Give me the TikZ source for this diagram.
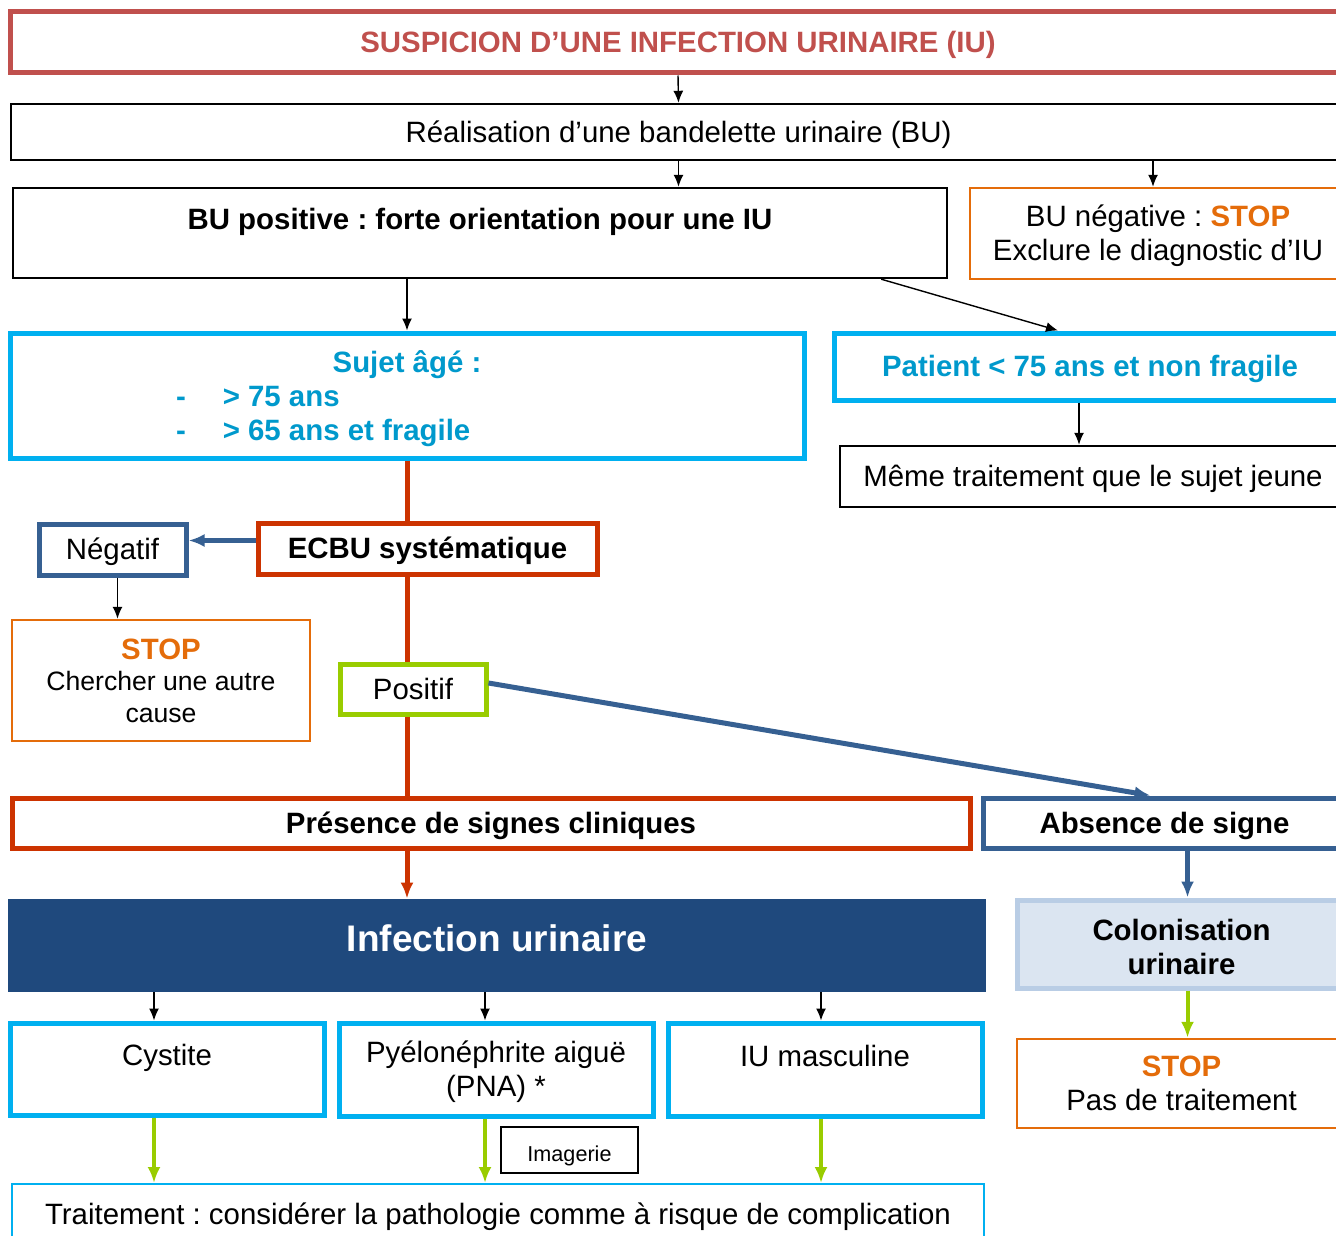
\documentclass[tikz,border=0pt]{standalone}
\usepackage{fontspec}
\setmainfont{Liberation Sans}
\usetikzlibrary{arrows.meta}
\definecolor{rouge}{HTML}{C0504D}
\definecolor{brique}{HTML}{CC3300}
\definecolor{cyanbord}{HTML}{00B0F0}
\definecolor{cyantexte}{HTML}{0099CC}
\definecolor{bleu}{HTML}{366092}
\definecolor{marine}{HTML}{1F497D}
\definecolor{vert}{HTML}{99CC00}
\definecolor{orangestop}{HTML}{E46C0A}
\definecolor{ciel}{HTML}{DBE5F1}
\definecolor{cielbord}{HTML}{B9CDE5}
\newcommand{\taille}{\fontsize{14.7}{17}\selectfont}
\newcommand{\haut}{\rule{0pt}{13.5pt}}
\frenchspacing

\begin{document}
\begin{tikzpicture}[x=0.5pt,y=-0.5pt,
	boite/.style={draw,align=center,inner sep=0pt,font=\taille},
	fin/.style={boite,line width=1.2pt,execute at begin node={\haut}},
	epais/.style={boite,line width=2.5pt,execute at begin node={\haut}},
	fleche/.style={-{Latex[length=6pt,width=5pt]},line width=0.7pt},
	grosse/.style={-{Latex[length=8pt,width=6.5pt]},line width=2.5pt}]
	\useasboundingbox (0,0) rectangle (1336,1235);
	\clip (0,0) rectangle (1336,1235);
	\node[epais,draw=rouge,text=rouge,font=\taille\bfseries,minimum width=668pt,minimum height=30.5pt] (suspicion) at (678,42.5) {SUSPICION D’UNE INFECTION URINAIRE (IU)};
	\node[fin,minimum width=667.5pt,minimum height=28pt] (realisation) at (678.5,132) {Réalisation d’une bandelette urinaire (BU)};
	\node[fin,font=\taille\bfseries,minimum width=467pt,minimum height=45pt] (bupos) at (480,233) {\haut BU positive : forte orientation pour une IU\\~};
	\node[fin,draw=orangestop,minimum width=188pt,minimum height=45.5pt] (buneg) at (1158,233.5) {\haut BU négative : \textcolor{orangestop}{\bfseries STOP}\\Exclure le diagnostic d’IU};
	\node[epais,draw=cyanbord,text=cyantexte,font=\taille\bfseries,minimum width=397pt,minimum height=62.5pt] (sujet) at (407,395.5) {\rule{0pt}{14pt}Sujet âgé :\\\makebox[231pt][l]{-\hspace{18.5pt}> 75 ans}\\\makebox[231pt][l]{-\hspace{18.5pt}> 65 ans et fragile}};
	\node[epais,draw=cyanbord,text=cyantexte,font=\taille\bfseries,minimum width=256pt,minimum height=33.5pt] (patient) at (1090,366.5) {Patient < 75 ans et non fragile};
	\node[fin,minimum width=253pt,minimum height=30.5pt] (meme) at (1093,476.5) {Même traitement que le sujet jeune};
	\node[epais,draw=brique,font=\taille\bfseries,minimum width=169.5pt,minimum height=25.5pt] (ecbu) at (427.5,548.5) {ECBU systématique};
	\node[epais,draw=bleu,minimum width=73.5pt,minimum height=25.5pt] (negatif) at (112.5,549.5) {Négatif};
	\node[fin,draw=orangestop,font=\fontsize{13.3}{15.8}\selectfont,minimum width=149pt,minimum height=60.5pt] (stopa) at (161,680.5) {\textcolor{orangestop}{\fontsize{14.7}{15.8}\selectfont\bfseries STOP}\\Chercher une autre\\cause};
	\node[boite,draw=vert,line width=2.5pt,minimum width=73pt,minimum height=25pt] (positif) at (413,689) {Positif};
	\node[epais,draw=brique,font=\taille\bfseries,minimum width=479pt,minimum height=25pt] (presence) at (491,823) {Présence de signes cliniques};
	\node[epais,draw=bleu,font=\taille\bfseries,minimum width=181.5pt,minimum height=25pt] (absence) at (1164.5,823) {Absence de signe};
	\node[boite,draw=none,fill=marine,text=white,font=\fontsize{18.5}{22}\selectfont\bfseries,text depth=7pt,minimum width=489pt,minimum height=46.5pt] (infection) at (497,945.5) {Infection urinaire};
	\node[epais,draw=cielbord,fill=ciel,font=\taille\bfseries,minimum width=164.5pt,minimum height=44pt] (colonisation) at (1181.5,944) {\haut Colonisation\\urinaire};
	\node[fin,draw=orangestop,minimum width=164.5pt,minimum height=44.5pt] (stopb) at (1181.5,1083.5) {\textcolor{orangestop}{\bfseries STOP}\\Pas de traitement};
	\node[epais,draw=cyanbord,minimum width=157pt,minimum height=46pt] (cystite) at (167,1069) {\haut Cystite\\~};
	\node[epais,draw=cyanbord,minimum width=157pt,minimum height=46.5pt] (pna) at (496,1069.5) {\haut Pyélonéphrite aiguë\\(PNA) *};
	\node[epais,draw=cyanbord,minimum width=157pt,minimum height=46.5pt] (masculine) at (825,1069.5) {\haut IU masculine\\~};
	\node[fin,font=\fontsize{10.8}{13}\selectfont,minimum width=68.5pt,minimum height=23pt] (imagerie) at (569.5,1150) {Imagerie};
	\node[fin,draw=cyanbord,line width=1pt,minimum width=486pt,minimum height=30pt] (traitement) at (498,1214) {Traitement : considérer la pathologie comme à risque de complication};
	\draw[fleche] (suspicion.south) -- (realisation.north);
	\draw[fleche] (realisation.south) -- (realisation.south |- bupos.north);
	\draw[fleche] ([xshift=-2.5pt]buneg.north |- realisation.south) -- ([xshift=-2.5pt]buneg.north);
	\draw[fleche] (sujet.north |- bupos.south) -- (sujet.north);
	\draw[fleche] ([xshift=-33.5pt]bupos.south east) -- ([xshift=-16pt]patient.north);
	\draw[fleche] ([xshift=-5.5pt]patient.south) -- ([xshift=-5.5pt]patient.south |- meme.north);
	\draw[brique,line width=2.5pt] (sujet.south) -- (sujet.south |- ecbu.north);
	\draw[brique,line width=2.5pt] (sujet.south |- ecbu.south) -- (sujet.south |- positif.north);
	\draw[brique,line width=2.5pt] (sujet.south |- positif.south) -- (sujet.south |- presence.north);
	\draw[grosse,brique] (sujet.south |- presence.south) -- (sujet.south |- infection.north);
	\draw[grosse,bleu] ([yshift=4pt]ecbu.west) -- ([yshift=4pt]ecbu.west -| negatif.east);
	\draw[fleche] ([xshift=2.5pt]negatif.south) -- ([xshift=2.5pt]negatif.south |- stopa.north);
	\draw[grosse,bleu] ([yshift=3pt]positif.east) -- ([xshift=-7pt]absence.north);
	\draw[grosse,bleu] ([xshift=3pt]colonisation.north |- absence.south) -- ([xshift=3pt]colonisation.north);
	\draw[grosse,vert,line width=2pt] ([xshift=3pt]colonisation.south) -- ([xshift=3pt]stopb.north);
	\foreach \n/\d in {cystite/-6.5,pna/-5.5,masculine/-2} {
		\draw[fleche] ([xshift=\d pt]infection.south -| \n.north) -- ([xshift=\d pt]\n.north);
		\draw[grosse,vert,line width=2pt] ([xshift=\d pt]\n.south) -- ([xshift=\d pt]\n.south |- traitement.north);
	}
\end{tikzpicture}
\end{document}
